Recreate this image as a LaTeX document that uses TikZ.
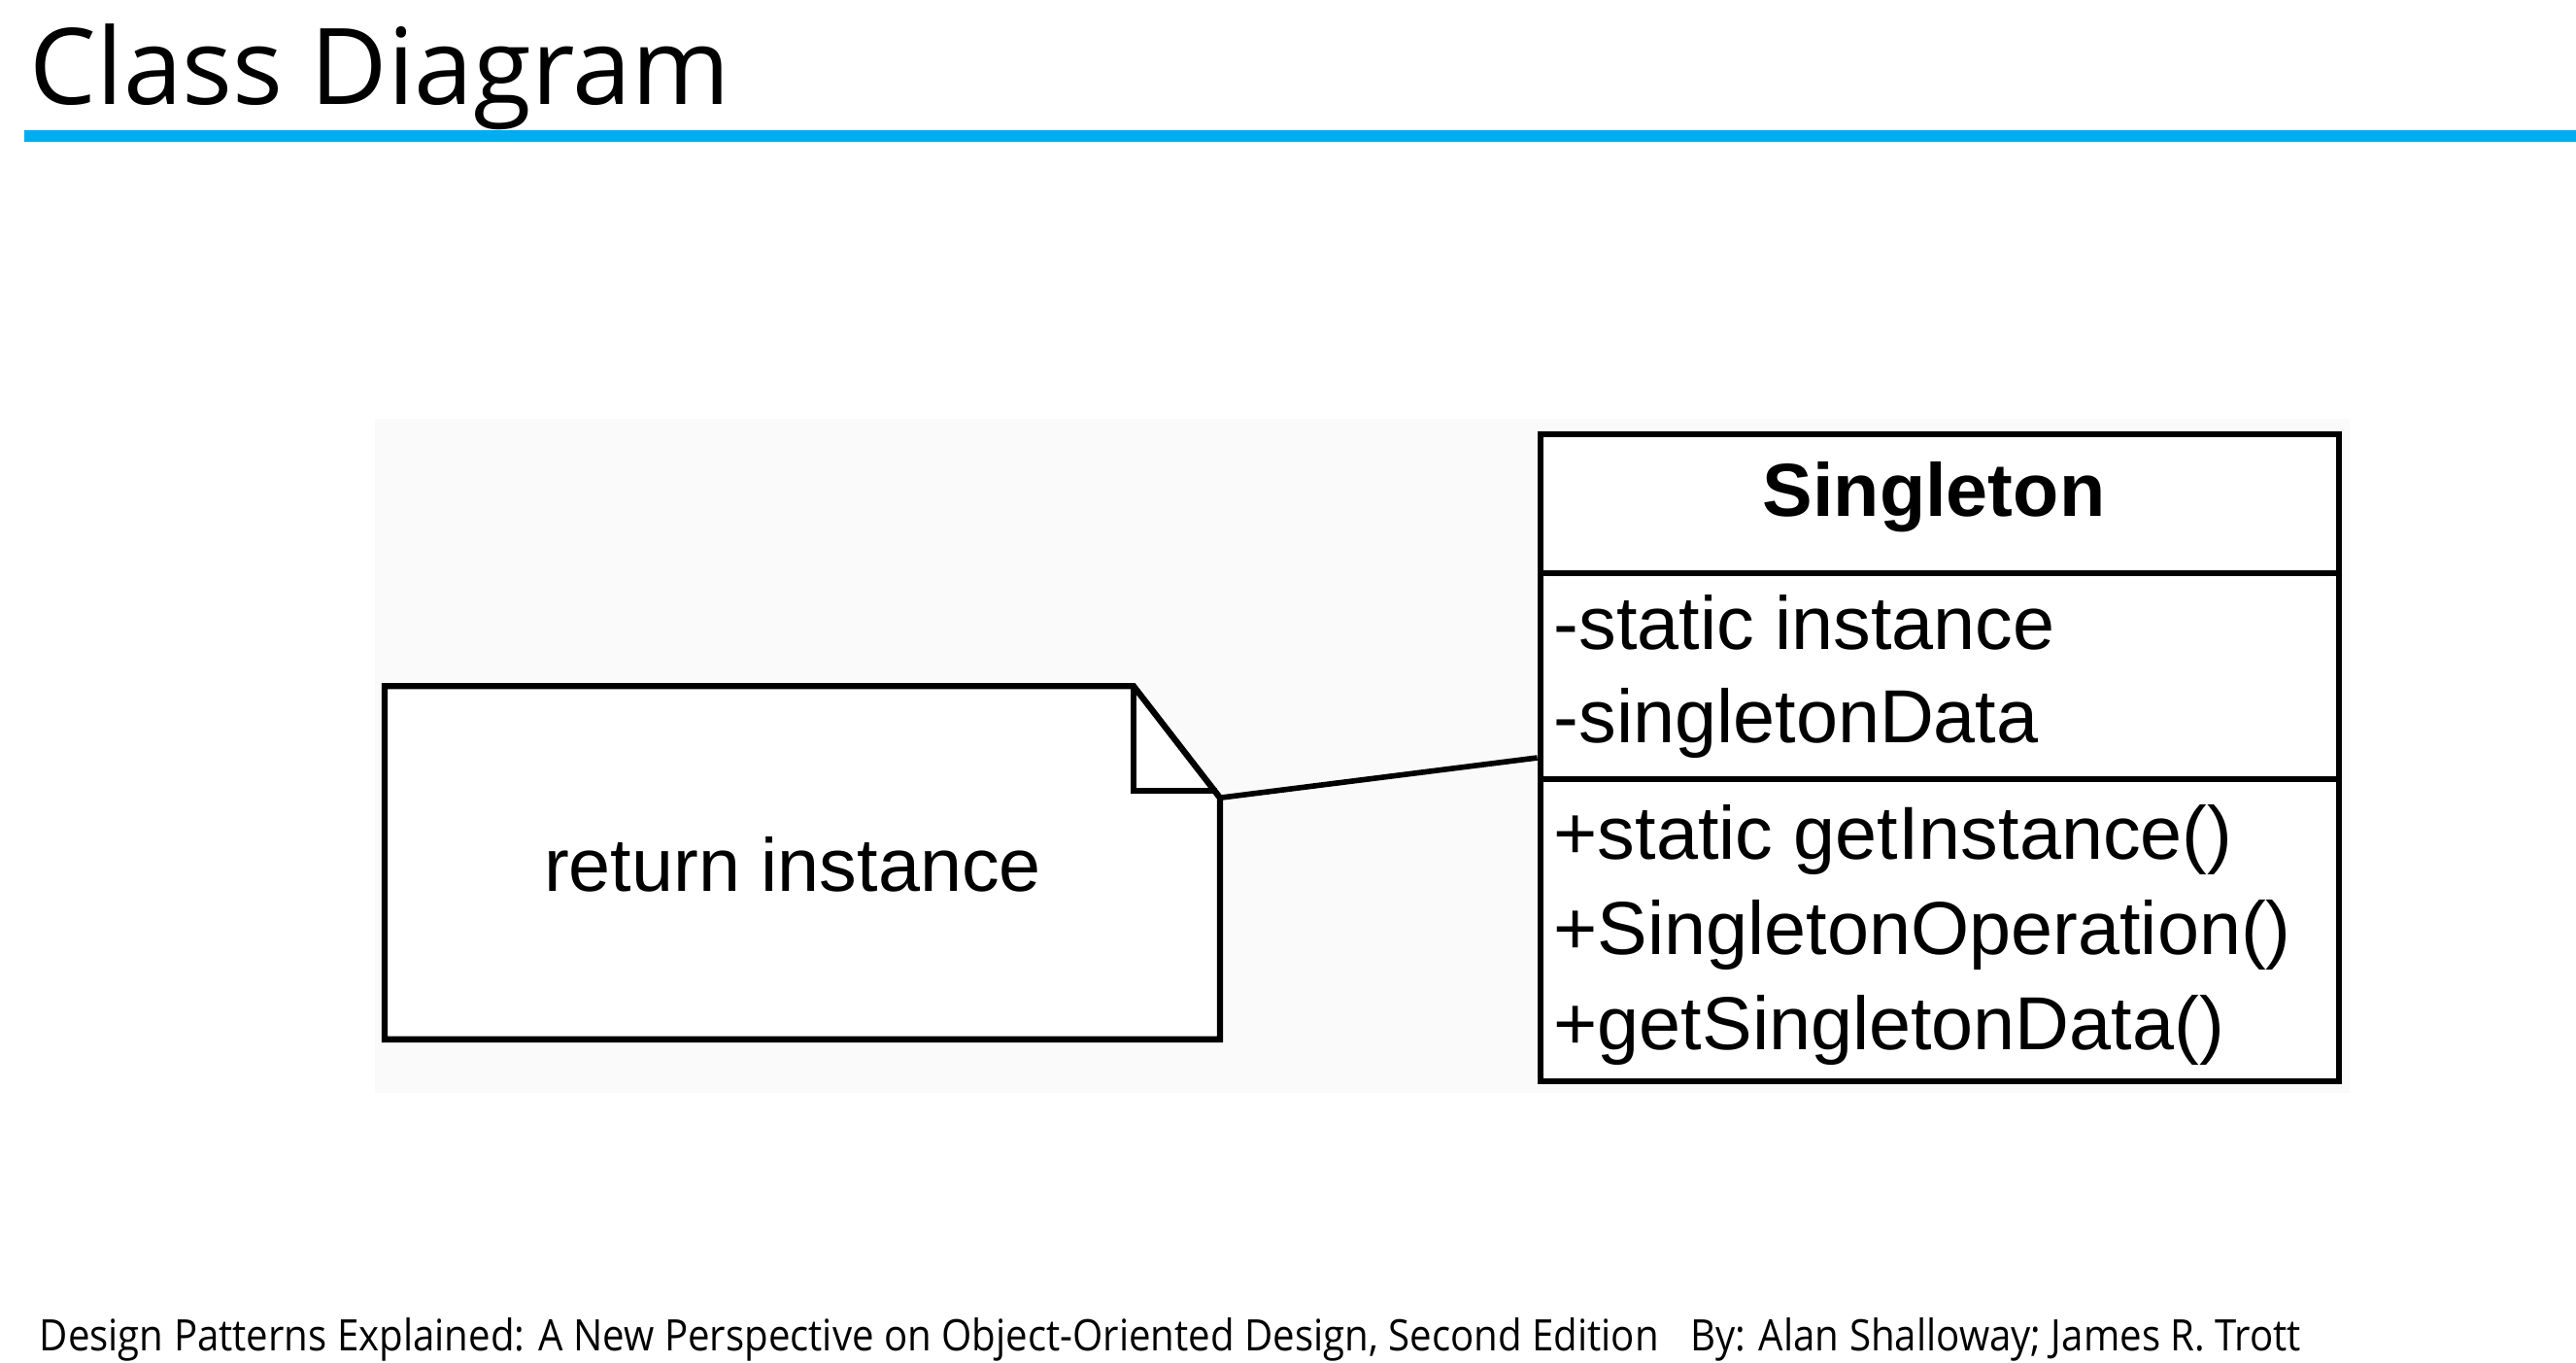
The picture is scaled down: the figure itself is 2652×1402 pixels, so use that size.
\documentclass[tikz,border=0pt]{standalone}
\usepackage{fontspec}
\setmainfont{Open Sans}
\newfontfamily\umlfont{Liberation Sans}
\usetikzlibrary{calc,positioning}

\definecolor{titleblue}{RGB}{0,174,239}

\begin{document}
\begin{tikzpicture}[x=0.01cm,y=-0.01cm,
    umlline/.style={line width=1.8pt,line join=miter},
    umltext/.style={font=\umlfont\fontsize{22}{26}\selectfont,inner sep=0pt},
    member/.style={umltext,anchor=base west}]
  \useasboundingbox (0,0) rectangle (2652,1402);
  % Titel og linje
  \node[anchor=base west,inner sep=0pt,font=\fontsize{31}{36}\selectfont] (title) at (30,107) {Class Diagram};
  \draw[titleblue,line width=3.4pt] (25,140) -- (2652,140);
  % lys baggrund bag figuren
  \fill[black!2] (386,431) rectangle (2419,1125);
  % Note med foldet hjoerne
  \node[umltext,minimum width=8.58cm,minimum height=3.62cm] (note) at (826,888) {};
  \coordinate (fold) at ($(note.north east)+(-89,0)$);
  \coordinate (foldend) at ($(note.north east)+(0,115)$);
  \draw[umlline,fill=white] (note.north west) -- (fold) -- (foldend) -- (note.south east) -- (note.south west) -- cycle;
  \node[umltext] (notetext) at (816,890) {return instance};
  \draw[umlline] (fold) -- ++(0,108) -- ++(86,0);
  % Klassen
  \node[draw,fill=white,umlline,minimum width=8.22cm,minimum height=6.66cm,inner sep=0pt] (singleton) at (1997,780) {};
  \draw[umlline] (singleton.west |- 0,590) -- (singleton.east |- 0,590);
  \draw[umlline] (singleton.west |- 0,802) -- (singleton.east |- 0,802);
  \node[umltext,font=\umlfont\bfseries\fontsize{22}{26}\selectfont] (classname) at (1991,512) {Singleton};
  \node[member] (attrA) at (1599,668) {-static instance};
  \node[member] (attrB) at (1599,764) {-singletonData};
  \node[member] (opA) at (1599,884) {+static getInstance()};
  \node[member] (opB) at (1599,982) {+SingletonOperation()};
  \node[member] (opC) at (1599,1080) {+getSingletonData()};
  % forbindelse
  \draw[umlline,line width=1.6pt] (foldend) -- (singleton.west);
  % kilde
  \node[anchor=base west,inner sep=0pt,font=\fontsize{12.7}{15}\selectfont] (source) at (40,1390)
    {\scalebox{0.9}[1]{Design Patterns Explained: A New Perspective on Object-Oriented Design, Second Edition\hspace{0.8em}By: Alan Shalloway; James R. Trott}};
\end{tikzpicture}
\end{document}
